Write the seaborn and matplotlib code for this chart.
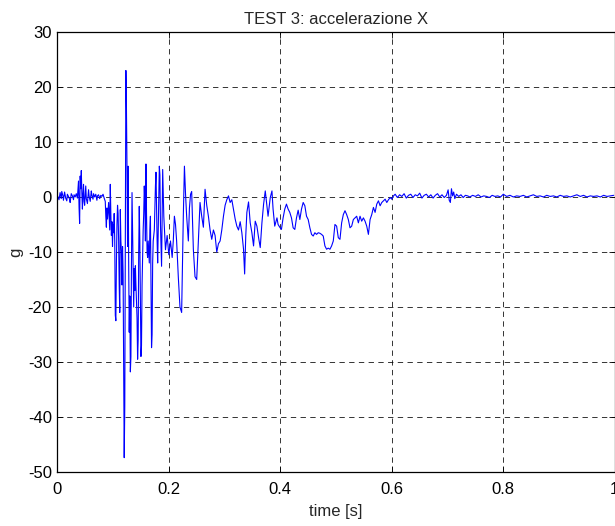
import matplotlib
matplotlib.use("Agg")
import matplotlib.pyplot as plt
import seaborn as sns
import pandas as pd

# accelerazione X (tempo in s, accelerazione in g)
t_s = [0.000, 0.003, 0.005, 0.007, 0.008, 0.010, 0.011, 0.013, 0.015, 0.017,
       0.018, 0.020, 0.022, 0.023, 0.025, 0.027, 0.029, 0.030, 0.032, 0.034,
       0.036, 0.038, 0.039, 0.040, 0.041, 0.042, 0.043, 0.044, 0.045, 0.046,
       0.047, 0.048, 0.049, 0.051, 0.052, 0.054, 0.056, 0.057, 0.059, 0.061,
       0.062, 0.064, 0.065, 0.067, 0.069, 0.071, 0.072, 0.074, 0.076, 0.078,
       0.080, 0.082, 0.084, 0.086, 0.087, 0.088, 0.089, 0.090, 0.092, 0.094,
       0.095, 0.096, 0.097, 0.098, 0.099, 0.100, 0.101, 0.102, 0.103, 0.104,
       0.105, 0.106, 0.107, 0.108, 0.109, 0.110, 0.111, 0.112, 0.113, 0.114,
       0.115, 0.116, 0.117, 0.118, 0.119, 0.120, 0.121, 0.122, 0.123, 0.124,
       0.125, 0.126, 0.127, 0.128, 0.129, 0.130, 0.131, 0.132, 0.133, 0.134,
       0.135, 0.136, 0.137, 0.138, 0.139, 0.140, 0.141, 0.143, 0.144, 0.145,
       0.146, 0.147, 0.148, 0.149, 0.150, 0.151, 0.152, 0.153, 0.154, 0.155,
       0.156, 0.157, 0.158, 0.159, 0.160, 0.161, 0.162, 0.163, 0.165, 0.166,
       0.167, 0.168, 0.169, 0.170, 0.171, 0.172, 0.174, 0.175, 0.176, 0.177,
       0.178, 0.179, 0.180, 0.181, 0.182, 0.183, 0.184, 0.185, 0.187, 0.189,
       0.191, 0.194, 0.197, 0.200, 0.203, 0.206, 0.208, 0.210, 0.212, 0.214,
       0.217, 0.220, 0.223, 0.226, 0.228, 0.230, 0.232, 0.235, 0.237, 0.239,
       0.241, 0.244, 0.247, 0.250, 0.253, 0.256, 0.259, 0.262, 0.265, 0.268,
       0.271, 0.274, 0.277, 0.280, 0.283, 0.286, 0.289, 0.292, 0.295, 0.298,
       0.301, 0.304, 0.307, 0.310, 0.313, 0.316, 0.319, 0.322, 0.325, 0.328,
       0.331, 0.334, 0.336, 0.338, 0.340, 0.343, 0.346, 0.349, 0.352, 0.355,
       0.358, 0.361, 0.364, 0.367, 0.370, 0.373, 0.376, 0.378, 0.382, 0.385,
       0.387, 0.390, 0.394, 0.396, 0.399, 0.402, 0.405, 0.408, 0.411, 0.414,
       0.417, 0.420, 0.423, 0.426, 0.429, 0.432, 0.435, 0.438, 0.441, 0.444,
       0.447, 0.450, 0.453, 0.456, 0.459, 0.462, 0.465, 0.468, 0.471, 0.474,
       0.477, 0.480, 0.483, 0.486, 0.489, 0.492, 0.495, 0.498, 0.501, 0.504,
       0.507, 0.510, 0.513, 0.516, 0.519, 0.522, 0.525, 0.528, 0.531, 0.534,
       0.537, 0.540, 0.543, 0.546, 0.549, 0.552, 0.555, 0.558, 0.561, 0.564,
       0.567, 0.570, 0.573, 0.576, 0.579, 0.582, 0.585, 0.588, 0.591, 0.594,
       0.597, 0.600, 0.603, 0.606, 0.610, 0.614, 0.618, 0.622, 0.626, 0.630,
       0.634, 0.638, 0.642, 0.646, 0.650, 0.654, 0.658, 0.662, 0.666, 0.670,
       0.674, 0.678, 0.682, 0.686, 0.690, 0.694, 0.698, 0.701, 0.703, 0.705,
       0.707, 0.709, 0.711, 0.713, 0.716, 0.720, 0.724, 0.728, 0.732, 0.736,
       0.740, 0.745, 0.750, 0.755, 0.760, 0.765, 0.770, 0.775, 0.780, 0.785,
       0.790, 0.795, 0.800, 0.806, 0.812, 0.818, 0.824, 0.830, 0.836, 0.842,
       0.848, 0.854, 0.860, 0.866, 0.872, 0.878, 0.884, 0.890, 0.896, 0.902,
       0.908, 0.914, 0.920, 0.926, 0.932, 0.938, 0.944, 0.950, 0.956, 0.962,
       0.968, 0.974, 0.980, 0.986, 0.992, 0.998]

acc_g = [0.3, -0.5, 0.8, -0.3, 1.0, 0.2, -0.6, 0.9, -0.2, -0.7,
         0.5, 0.1, -0.4, -1.0, 0.6, 0.2, -0.5, 0.4, 0.0, 0.6,
         -0.2, 2.9, -1.9, -4.8, 3.8, 1.5, 4.8, 0.8, -2.2, 0.5,
         2.3, -0.8, -1.5, 2.0, -0.3, -1.2, 1.3, 0.2, -0.8, 1.1,
         0.3, -0.4, 0.6, 0.0, 0.5, -0.6, 0.2, 0.4, -0.3, 0.3,
         0.1, 0.5, -0.2, -0.8, -3.5, -5.5, -2.0, -4.0, -1.0, -6.0,
         2.3, -3.0, -7.0, -4.5, -9.0, -5.0, -6.5, -3.0, -8.0, -21.5,
         -22.5, -12.0, -5.0, -1.5, -3.0, -8.0, -16.0, -21.0, -2.3, -8.0,
         -10.0, -16.0, -9.0, -14.0, -30.0, -47.4, -38.0, -5.0, 23.0, 16.0,
         5.0, -9.0, 5.6, -12.0, -24.6, -18.0, -31.8, -29.0, -12.0, 0.8,
         -6.0, -13.0, -20.0, -13.0, -17.0, -12.5, -16.0, -22.0, -29.5, -26.0,
         -10.0, -1.7, -8.0, -18.0, -29.0, -27.0, -16.0, -11.0, -6.0, -3.0,
         2.0, -1.0, -8.0, 6.0, -3.0, -10.0, -11.0, -8.0, -12.0, -6.0,
         -3.5, -15.0, -27.4, -25.0, -12.0, -8.0, -6.0, -2.0, 2.0, 4.5,
         -2.0, -8.0, -12.0, -6.0, -1.0, 5.6, 4.0, -5.0, -12.6, 5.0,
         -3.5, -9.6, -7.0, -10.5, -8.0, -11.0, -8.0, -3.5, -5.0, -8.0,
         -14.5, -20.0, -21.0, -3.5, 5.6, 0.5, -3.5, -8.0, -2.0, 0.5,
         1.0, -9.5, -14.5, -15.0, -8.0, -1.0, -3.5, -5.5, 1.4, -1.5,
         -3.5, -6.0, -7.7, -6.0, -7.0, -10.0, -8.5, -8.0, -6.0, -3.5,
         -1.5, -0.5, 0.2, -1.0, -0.5, -2.2, -4.0, -5.3, -6.0, -4.5,
         -6.5, -9.5, -14.0, -7.1, -2.8, -0.9, -4.7, -6.5, -8.9, -4.4,
         -5.3, -7.4, -9.2, -4.7, -1.3, 1.1, -1.6, -3.5, -0.1, 1.1,
         -2.2, -5.3, -3.8, -5.0, -5.5, -5.9, -3.8, -2.2, -1.3, -2.2,
         -2.8, -3.8, -5.6, -5.9, -3.8, -2.4, -4.1, -2.2, -1.0, -1.6,
         -3.5, -4.1, -5.6, -6.8, -7.1, -6.5, -6.8, -6.5, -6.6, -6.8,
         -7.1, -8.9, -9.5, -9.3, -9.5, -8.9, -8.0, -5.0, -5.3, -7.4,
         -7.7, -4.7, -3.2, -2.5, -3.2, -4.1, -5.6, -5.3, -4.1, -3.8,
         -3.5, -4.7, -3.5, -4.4, -3.8, -4.4, -5.3, -6.8, -4.1, -3.2,
         -1.9, -2.8, -1.3, -0.7, -1.6, -1.0, -0.7, -0.4, -1.0, -0.5,
         -0.1, -0.4, 0.2, 0.5, -0.1, 0.4, 0.1, 0.6, -0.2, 0.3,
         0.5, -0.1, 0.4, 0.2, 0.7, -0.2, 0.3, 0.5, 0.0, 0.4,
         -0.2, 0.3, 0.6, 0.0, 0.4, -0.1, 0.3, 1.3, -0.6, -1.0,
         1.5, 0.2, 0.9, -0.3, 0.5, 0.1, 0.4, -0.1, 0.3, 0.2,
         0.0, 0.3, 0.1, 0.4, 0.0, 0.2, 0.1, -0.1, 0.3, 0.1,
         0.2, 0.0, 0.5, 0.1, 0.3, 0.0, 0.2, 0.1, 0.3, 0.0,
         0.2, 0.4, 0.1, 0.2, 0.0, 0.3, 0.1, 0.2, 0.0, 0.3,
         0.1, 0.2, 0.0, 0.2, 0.4, 0.1, 0.3, 0.0, 0.2, 0.1,
         0.2, 0.0, 0.3, 0.1, 0.2, 0.3]

x_ticks = [0, 0.2, 0.4, 0.6, 0.8, 1]
x_labels = ["0", "0.2", "0.4", "0.6", "0.8", "1"]
y_ticks = [-50, -40, -30, -20, -10, 0, 10, 20, 30]

df = pd.DataFrame({"time": t_s, "acc": acc_g})

sns.set_theme(style="white")
plt.rcParams["font.family"] = ["Liberation Sans", "DejaVu Sans"]
plt.rcParams["font.size"] = 12
plt.rcParams["axes.unicode_minus"] = False

fig = plt.figure(figsize=(6.15, 5.26), dpi=100)
ax = fig.add_axes([0.0932, 0.1027, 0.9065, 0.8365])

sns.lineplot(data=df, x="time", y="acc", ax=ax, color=(0, 0, 1),
             linewidth=0.8, sort=False, estimator=None)

ax.set_xlim(0, 1)
ax.set_ylim(-50, 30)
ax.set_xticks(x_ticks)
ax.set_xticklabels(x_labels)
ax.set_yticks(y_ticks)

ax.grid(True, color="black", linestyle=(0, (5.5, 4.5)), linewidth=0.7, alpha=0.8)
ax.set_axisbelow(True)
for sp in ax.spines.values():
    sp.set_color("black")
    sp.set_linewidth(0.9)
ax.tick_params(direction="in", length=4, width=0.6, colors="black",
               labelsize=12, top=True, right=True, bottom=True, left=True, pad=4)
ax.tick_params(axis="x", pad=7)

ax.set_title("TEST 3: accelerazione X", fontsize=12, pad=6)
ax.set_xlabel("time [s]", fontsize=12, labelpad=5)
ax.set_ylabel("g", fontsize=12, labelpad=3)

fig.savefig("out.png", dpi=100)
